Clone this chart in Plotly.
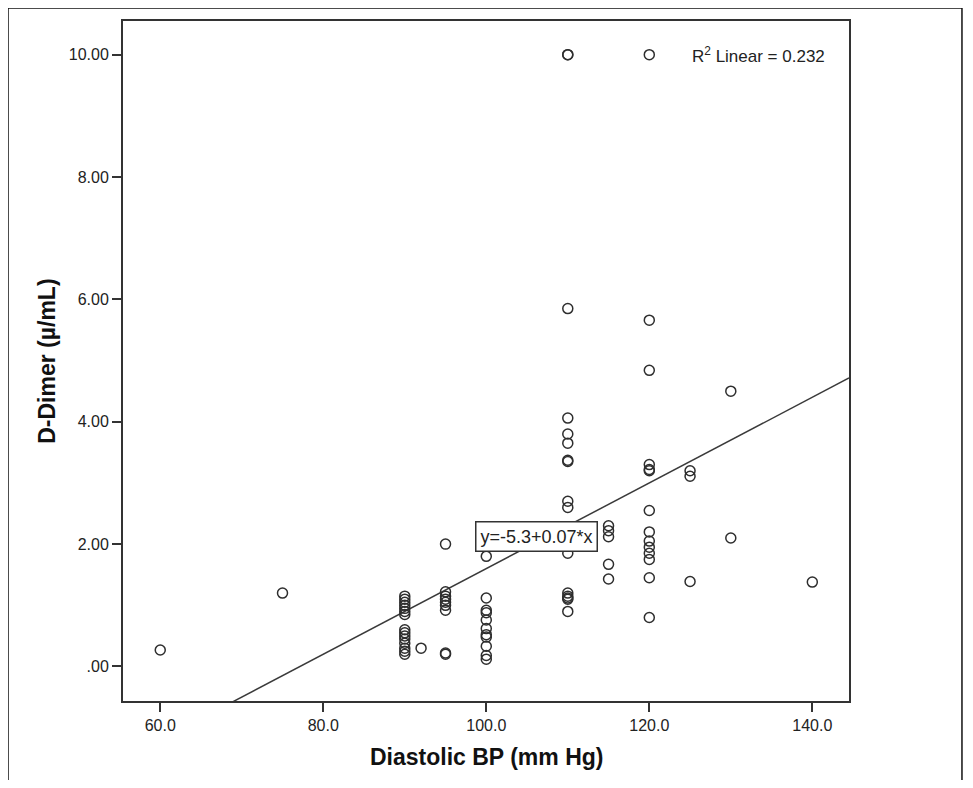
import plotly.graph_objects as go

# ---- data ----
bp_60 = [60];   dd_60 = [0.27]
bp_75 = [75];   dd_75 = [1.20]
dd_90 = [1.15, 1.10, 1.05, 1.00, 0.95, 0.90, 0.85, 0.60, 0.55, 0.50, 0.45, 0.38, 0.30, 0.25, 0.20]
dd_92 = [0.30]
dd_95 = [2.00, 1.22, 1.15, 1.10, 1.05, 1.00, 0.92, 0.22, 0.20]
dd_100 = [1.80, 1.12, 0.92, 0.88, 0.76, 0.62, 0.52, 0.48, 0.33, 0.18, 0.12]
dd_110 = [10.0, 10.0, 5.85, 4.06, 3.80, 3.65, 3.37, 3.35, 2.70, 2.60, 1.85, 1.20, 1.15, 1.12, 1.10, 0.90]
dd_115 = [2.30, 2.22, 2.12, 1.67, 1.43]
dd_120 = [10.0, 5.66, 4.84, 3.30, 3.22, 3.20, 2.55, 2.20, 2.05, 1.95, 1.85, 1.75, 1.45, 0.80]
dd_125 = [3.20, 3.11, 1.39]
dd_130 = [4.50, 2.10]
dd_140 = [1.38]

groups = [(60, dd_60), (75, dd_75), (90, dd_90), (92, dd_92), (95, dd_95), (100, dd_100),
          (110, dd_110), (115, dd_115), (120, dd_120), (125, dd_125), (130, dd_130), (140, dd_140)]
diastolic = []
ddimer = []
for bp, vals in groups:
    diastolic += [bp] * len(vals)
    ddimer += vals

fit_intercept = -5.40
fit_slope = 0.070
eq_label = "y=-5.3+0.07*x"
r2_label = "R<sup>2</sup> Linear = 0.232"

x_range = [55.43, 144.5]
y_range = [-0.564, 10.55]
x_ticks = [60, 80, 100, 120, 140]
x_ticktext = ["60.0", "80.0", "100.0", "120.0", "140.0"]
y_ticks = [0, 2, 4, 6, 8, 10]
y_ticktext = [".00", "2.00", "4.00", "6.00", "8.00", "10.00"]

FONT = "Liberation Sans, Arial, sans-serif"
AX = "#333333"

fig = go.Figure()
fig.add_trace(go.Scatter(
    x=[x_range[0], x_range[1]],
    y=[fit_intercept + fit_slope * x_range[0], fit_intercept + fit_slope * x_range[1]],
    mode="lines", line=dict(color="#3a3a3a", width=1.5), hoverinfo="skip", showlegend=False))
fig.add_trace(go.Scatter(
    x=diastolic, y=ddimer, mode="markers",
    marker=dict(symbol="circle", size=10, color="rgba(0,0,0,0)",
                line=dict(color="#2e2e2e", width=1.5)),
    showlegend=False))

axis_common = dict(showline=True, linecolor=AX, linewidth=2, mirror=True,
                   ticks="outside", ticklen=9, tickwidth=2, tickcolor=AX,
                   showgrid=False, zeroline=False,
                   tickfont=dict(family=FONT, size=16, color="#222"))
fig.update_xaxes(range=x_range, tickvals=x_ticks, ticktext=x_ticktext, **axis_common)
fig.update_yaxes(range=y_range, tickvals=y_ticks, ticktext=y_ticktext, **axis_common)

fig.add_annotation(text="<b>Diastolic BP (mm Hg)</b>", xref="paper", yref="paper",
                   x=0.5, y=-0.0824, xanchor="center", yanchor="middle", showarrow=False,
                   font=dict(family=FONT, size=23, color="#111"))
fig.add_annotation(text="<b>D-Dimer (µ/mL)</b>", xref="paper", yref="paper",
                   x=-0.105, y=0.5, xanchor="center", yanchor="middle", textangle=-90,
                   showarrow=False, font=dict(family=FONT, size=23, color="#111"))
fig.add_annotation(text=r2_label, x=141.8, y=10.0, xanchor="right", yanchor="middle",
                   showarrow=False, font=dict(family=FONT, size=17, color="#222"))
fig.add_annotation(text=eq_label, x=106.16, y=2.124, xanchor="center", yanchor="middle",
                   showarrow=False, bgcolor="white", bordercolor="#333", borderwidth=1.5,
                   borderpad=4, font=dict(family=FONT, size=18, color="#222"))

# outer image frame (left, top, right)
for x0, y0, x1, y1 in [(-0.1584, -0.13, -0.1584, 1.0191), (-0.1584, 1.0191, 1.1556, 1.0191),
                       (1.1556, 1.0191, 1.1556, -0.13)]:
    fig.add_shape(type="line", xref="paper", yref="paper", x0=x0, y0=y0, x1=x1, y1=y1,
                  line=dict(color="#111", width=1.5))

# the page body has an 8px margin, so the figure is sized and offset to compensate
fig.update_layout(width=957, height=772, margin=dict(l=115, r=116, t=13, b=79),
                  plot_bgcolor="white", paper_bgcolor="white", showlegend=False,
                  font=dict(family=FONT))
fig.write_html("out.html")
